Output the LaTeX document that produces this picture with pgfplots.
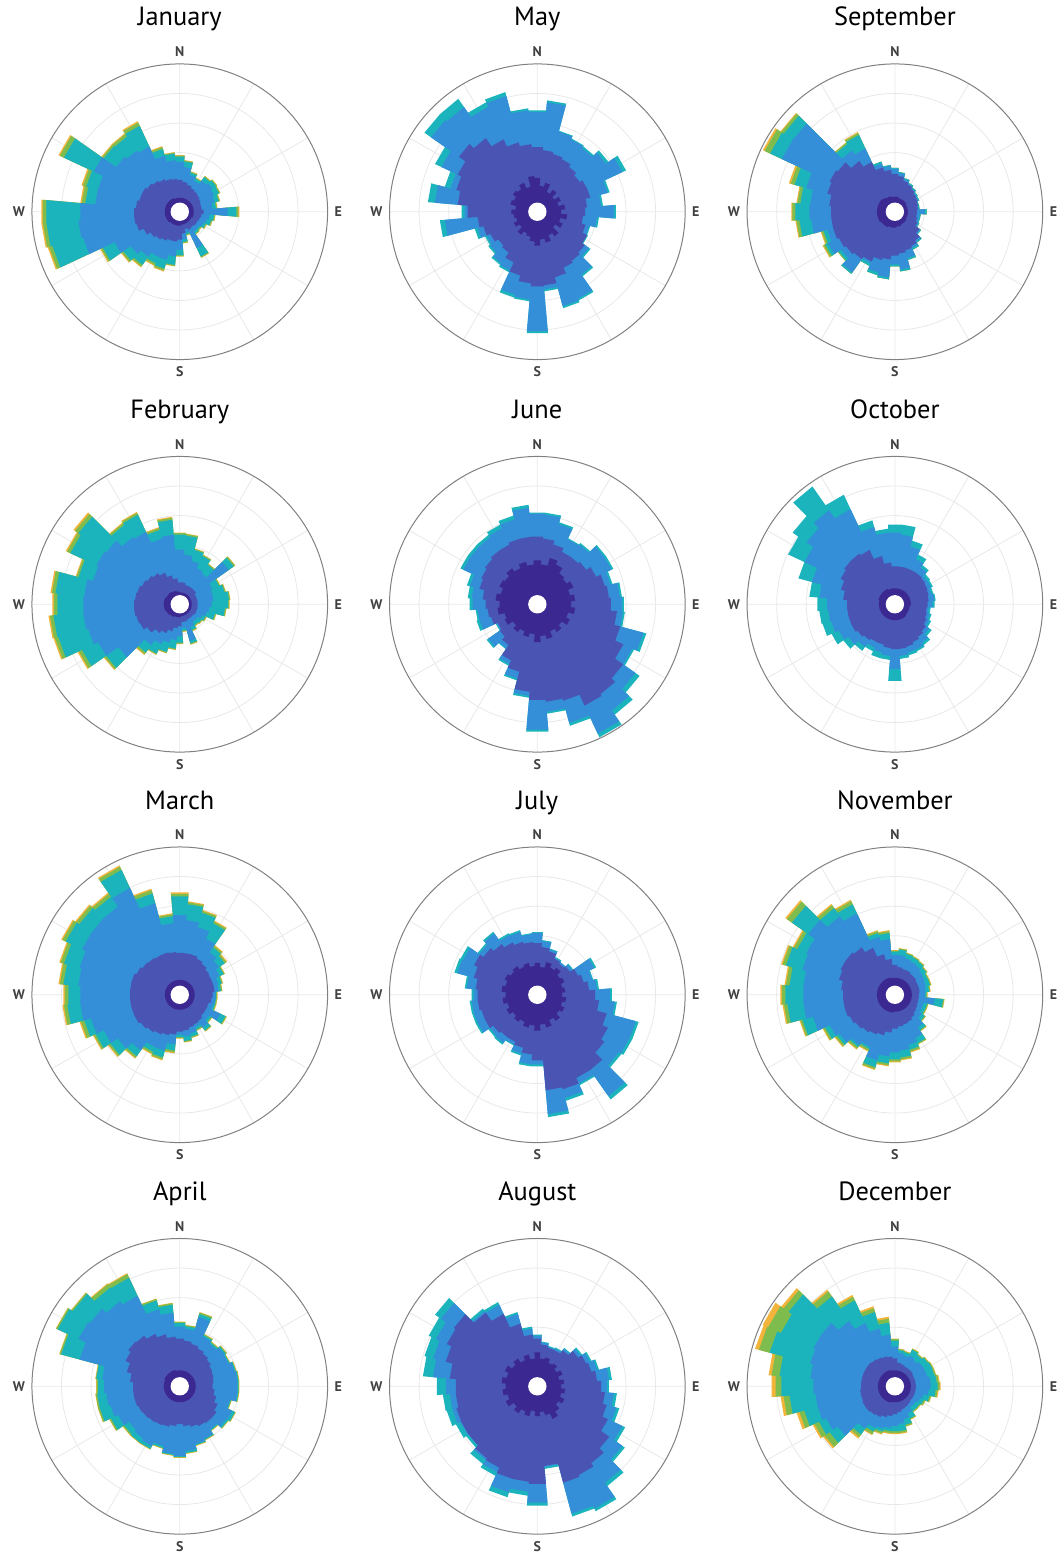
\documentclass[border=0pt]{standalone}
\usepackage{pgfplots}
\usepackage{pgfplotstable}
\usepackage{fontspec}
\setmainfont{PT Sans}
\pgfplotsset{compat=1.18}
\usepgfplotslibrary{polar}

% speed classes, slowest to fastest
\definecolor{c1}{RGB}{60,40,145}
\definecolor{c2}{RGB}{74,84,178}
\definecolor{c3}{RGB}{52,142,216}
\definecolor{c4}{RGB}{28,180,188}
\definecolor{c5}{RGB}{126,188,78}
\definecolor{c6}{RGB}{242,180,58}

% cumulative radius of each speed class per 10-degree sector (d = compass bearing)
\pgfplotstableread{
d a b c t g o
0 14 32 50 55.5 56.5 57
10 14 30 45 50.5 51.5 52
20 14 28 38 40.5 41.5 42
30 14 26 34 36.5 37.5 38
40 14 25 38 42.5 43.5 44
50 14 24 40 44.5 45.5 46
60 14 23 38 43.5 44.5 45
70 14 22 36 40.5 41.5 42
80 14 22 33 36.5 37.5 38
90 14 24 48 57 59 60
100 14 22 30 34.5 35.5 36
110 14 21 28 32.5 33.5 34
120 13 20 26 28.5 29.5 30
130 13 20 24 25.5 26.5 27
140 13 19 24 26.5 27.5 28
150 13 20 40 49.5 50.5 51
160 13 18 22 23.5 24.5 25
170 13 22 28 30.5 31.5 32
180 14 28 38 43.5 44.5 45
190 14 30 45 53.5 54.5 55
200 14 30 50 59 61 62
210 14 32 50 57 59 60
220 14 34 55 65 67 68
230 15 36 60 69 71 72
240 15 40 72 85 87 88
250 15 45 100 132 135.5 137
260 15 46 102 134 137.5 139
270 15 46 100 134 137.5 139
280 15 44 85 95 98.5 100
290 15 42 85 97 100.5 102
300 15 42 95 128 132.5 134
310 15 40 78 93 95 96
320 15 38 75 92 95 96
330 15 36 72 95 98.5 100
340 14 34 58 65 67 68
350 14 33 52 58.5 59.5 60
}\jan

\pgfplotstableread{
d a b c t g o
0 12 22 55 70 71.5 72
10 12 22 50 69 70.5 71
20 12 20 45 56.5 57.5 58
30 12 20 40 53.5 54.5 55
40 12 20 38 48.5 49.5 50
50 12 20 60 66 67.5 68
60 12 18 36 43.5 44.5 45
70 12 18 34 46.5 47.5 48
80 12 18 34 49.5 50.5 51
90 12 18 32 48.5 49.5 50
100 12 18 30 45.5 46.5 47
110 12 18 28 36.5 37.5 38
120 12 18 25 28.5 29.5 30
130 12 17 22 26.5 27.5 28
140 12 17 22 25.5 26.5 27
150 12 17 25 28.5 29.5 30
160 12 18 38 40.5 41.5 42
170 12 18 24 26.5 27.5 28
180 13 22 32 38.5 39.5 40
190 13 24 36 44.5 45.5 46
200 13 28 40 49.5 50.5 51
210 14 32 44 54.5 55.5 56
220 14 35 50 59 61 62
230 15 40 75 90 92 93
240 15 44 90 108 111.5 113
250 16 45 95 126 129.5 131
260 16 46 97 127 130.5 132
270 16 46 97 123 126.5 128
280 16 45 96 125 128.5 130
290 16 44 90 105 107 108
300 15 42 92 121 124.5 126
310 15 40 90 124 128 130
320 15 38 82 97 99 100
330 14 35 80 99 101 102
340 14 30 68 77 79 80
350 13 26 70 85 87 88
}\feb

\pgfplotstableread{
d a b c t g o
0 15 42 80 99 101.5 103
10 15 42 75 91 93 94
20 15 42 70 85 87 88
30 15 40 62 79 81 82
40 15 38 52 58 60 61
50 15 36 48 55 57 58
60 15 35 44 48.5 49.5 50
70 15 35 40 43.5 44.5 45
80 15 35 39 41.5 42.5 43
90 15 33 36 36.5 37.5 38
100 15 32 36 36.5 37.5 38
110 15 30 35 36.5 37.5 38
120 15 30 45 50.5 51.5 52
130 15 30 36 38.5 39.5 40
140 15 32 40 43.5 44.5 45
150 15 33 36 38.5 39.5 40
160 15 34 40 43.5 44.5 45
170 15 36 42 46.5 47.5 48
180 15 37 40 42.5 43.5 44
190 15 40 50 56 58 59
200 15 42 58 65 67 68
210 15 44 58 63 65 66
220 15 46 68 75 77 78
230 15 48 76 85 87 88
240 15 50 84 93 95 96
250 15 50 92 99 102.5 104
260 15 50 100 113 116.5 118
270 15 50 100 112 115.5 117
280 15 50 102 117 120.5 122
290 15 50 104 120 123.5 125
300 15 48 108 126 129.5 131
310 15 46 108 123 126.5 128
320 15 45 108 120 123.5 125
330 15 44 118 138 141.5 143
340 15 44 95 105 108.5 110
350 15 43 72 79 81 82
}\mar

\pgfplotstableread{
d a b c t g o
0 16 48 60 63.5 64.5 65
10 16 46 58 60.5 61.5 62
20 16 44 72 75 76.5 77
30 16 42 55 56.5 57.5 58
40 16 40 52 53.5 54.5 55
50 16 38 55 56.5 57.5 58
60 16 36 54 55 55.5 56
70 16 35 57 58 58.5 59
80 16 34 58 59 59.5 60
90 16 33 58 59 59.5 60
100 16 35 58 59 59.5 60
110 16 38 52 53 53.5 54
120 16 42 58 61 61.5 62
130 16 45 57 59 59.5 60
140 16 45 53 54 54.5 55
150 16 44 58 59 59.5 60
160 16 42 60 61 61.5 62
170 16 40 65 67 67.5 68
180 16 38 70 71 71.5 72
190 16 40 68 69 69.5 70
200 16 42 62 64 64.5 65
210 16 43 66 69 69.5 70
220 16 44 64 69 69.5 70
230 16 45 62 68 69.5 70
240 16 46 68 76 77.5 78
250 16 47 72 83 84.5 85
260 16 47 74 83 84.5 85
270 16 47 76 82 83.5 84
280 16 50 78 84 84.5 85
290 16 55 104 123 124.5 125
300 17 60 112 135 136.5 137
310 17 63 110 131 132.5 133
320 17 62 104 121 125 126
330 17 58 100 120 124 125
340 17 54 80 89 90.5 91
350 16 50 74 82 83.5 84
}\apr

\pgfplotstableread{
d a b c o
0 34 65 100 102
10 26 62 110 112
20 30 60 83 84
30 22 58 80 81
40 27 55 78 80
50 21 52 84 87
60 26 55 94 98
70 22 55 73 75
80 28 50 64 66
90 24 48 77 79
100 30 46 60 62
110 24 50 54 55
120 28 55 55 56
130 22 58 63 65
140 30 60 77 79
150 26 62 96 98
160 32 68 98 100
170 28 74 78 80
180 34 75 120 122
190 30 72 88 90
200 26 66 86 89
210 24 56 65 67
220 28 50 63 65
230 22 48 58 60
240 26 52 56 58
250 22 56 62 65
260 24 60 93 98
270 26 70 73 76
280 22 80 103 110
290 28 84 90 96
300 26 88 106 113
310 30 96 130 138
320 28 90 128 138
330 32 80 116 121
340 26 72 120 124
350 36 68 102 104
}\may

\pgfplotstableread{
d a b c o
0 44 68 91 92
10 40 66 90 92
20 48 62 83 85
30 44 58 72 73
40 38 58 73 75
50 36 60 82 84
60 40 65 82 84
70 34 70 76 78
80 38 72 83 85
90 34 74 85 87
100 38 80 86 88
110 32 86 110 113
120 36 95 105 107
130 30 105 120 125
140 34 110 130 135
150 30 112 143 147
160 36 100 123 126
170 32 98 108 110
180 38 96 126 128
190 30 88 92 94
200 34 70 77 79
210 30 62 66 68
220 34 50 54 55
230 30 46 60 62
240 36 44 45 46
250 34 48 60 63
260 40 50 60 62
270 38 52 65 68
280 42 55 66 70
290 38 60 70 73
300 42 62 82 85
310 40 64 82 85
320 44 66 82 85
330 40 66 84 88
340 44 68 88 92
350 40 68 97 100
}\jun

\pgfplotstableread{
d a b c o
0 32 52 62 63
10 28 48 54 55
20 34 45 47 48
30 30 40 41 42
40 33 38 40 40
50 28 40 43 44
60 30 45 63 65
70 26 48 57 58
80 28 52 60 62
90 25 58 73 75
100 29 62 78 80
110 26 72 102 105
120 30 78 102 105
130 27 82 100 103
140 32 92 124 128
150 28 92 98 100
160 34 98 107 110
170 30 96 120 123
180 36 66 70 72
190 31 60 70 72
200 34 55 61 63
210 30 52 55 56
220 33 52 59 61
230 30 54 58 60
240 34 58 66 68
250 31 58 66 68
260 35 60 66 68
270 32 60 64 66
280 36 62 71 73
290 33 66 83 86
300 36 70 82 85
310 33 66 71 73
320 35 62 75 77
330 31 58 66 68
340 33 55 65 67
350 29 53 61 62
}\jul

\pgfplotstableread{
d a b c o
0 34 48 51 52
10 28 42 44 45
20 30 40 41 42
30 26 40 42 43
40 28 44 46 47
50 24 50 53 55
60 28 54 58 60
70 23 56 62 64
80 27 60 72 75
90 24 64 70 72
100 28 68 77 80
110 25 72 82 85
120 30 78 94 97
130 26 88 104 107
140 31 94 118 122
150 36 98 135 138
160 30 100 132 135
170 26 80 81 83
180 30 98 117 120
190 25 96 106 110
200 31 96 110 115
210 28 90 95 99
220 33 88 90 95
230 29 84 84 87
240 35 84 85 90
250 31 84 88 94
260 35 82 88 95
270 32 82 92 101
280 36 88 105 115
290 32 95 108 117
300 36 100 112 120
310 31 102 118 125
320 34 90 92 95
330 29 80 90 93
340 33 65 75 77
350 28 52 58 60
}\aug

\pgfplotstableread{
d a b c t g o
0 15 38 43 44 44 44
10 15 36 39 40 40 40
20 14 32 34 35 35 35
30 14 30 31 32 32 32
40 14 28 29 30 30 30
50 14 26 27 28 28 28
60 13 25 26 27 27 27
70 13 24 24 25 25 25
80 13 23 24 25 25 25
90 13 22 30 32 32 32
100 13 22 25 26 26 26
110 13 23 25 26 26 26
120 13 25 26 27 27 27
130 14 30 31 32 32 32
140 14 35 37 38 38 38
150 14 38 40 42 42 42
160 15 40 48 50 50 50
170 15 42 58 60 60 60
180 16 44 53 55 55 55
190 16 48 66 68 68 68
200 16 50 63 66 66 66
210 17 55 57 60 60 60
220 17 58 74 76 76 76
230 17 60 66 69 70 70
240 18 62 74 77 79 80
250 18 64 70 74 76 77
260 18 64 84 96 99 100
270 18 64 86 100 103 104
280 18 66 85 95 98 99
290 18 70 92 104 108 110
300 18 72 125 138 144 146
310 18 70 125 136 139 140
320 17 62 75 83 84.5 85
330 16 55 70 85 87 88
340 16 46 50 52 52 52
350 15 42 46 47 47 47
}\sep

\pgfplotstableread{
d a b c o
0 16 38 72 80
10 16 38 70 80
20 16 38 60 66
30 16 38 50 55
40 16 38 45 48
50 16 37 40 43
60 16 36 40 42
70 16 35 38 40
80 16 34 40 41
90 16 33 38 40
100 15 32 34 36
110 15 33 36 38
120 15 35 38 40
130 15 38 42 45
140 16 40 47 50
150 16 42 50 52
160 16 44 50 53
170 16 45 52 55
180 16 45 65 77
190 16 44 52 56
200 16 42 50 56
210 16 42 48 52
220 16 44 52 57
230 16 46 57 63
240 16 48 62 70
250 16 48 66 75
260 16 48 67 76
270 16 48 68 78
280 16 52 76 86
290 17 56 86 100
300 17 60 100 118
310 17 62 108 125
320 17 62 115 144
330 17 60 105 121
340 16 50 80 87
350 16 42 72 76
}\oct

\pgfplotstableread{
d a b c t g o
0 17 30 40 43.5 44.5 45
10 17 28 40 45.5 46.5 47
20 17 27 38 42.5 43.5 44
30 17 27 37 41.5 42.5 43
40 17 26 36 40.5 41.5 42
50 17 26 34 38.5 39.5 40
60 17 25 33 36.5 37.5 38
70 17 25 32 36.5 37.5 38
80 17 25 31 34.5 35.5 36
90 17 24 30 31.5 32.5 33
100 17 24 40 48.5 49.5 50
110 17 24 30 33.5 34.5 35
120 17 25 30 33.5 34.5 35
130 17 26 33 36.5 37.5 38
140 17 28 40 43.5 44.5 45
150 17 30 48 53.5 54.5 55
160 17 31 52 57 59 60
170 17 32 56 63 65 66
180 17 34 58 65 67 68
190 18 38 62 69 71 72
200 18 42 68 75 77 78
210 18 44 58 60 62 63
220 18 46 62 64 66 67
230 18 48 68 71 73 74
240 18 50 72 77 79 80
250 18 52 85 96 98 99
260 18 52 92 108 111.5 113
270 18 52 92 110 113.5 115
280 18 54 92 106 109.5 111
290 18 58 96 113 116.5 118
300 18 60 98 108 111.5 113
310 18 60 106 126 132 134
320 18 58 96 106 109.5 111
330 18 52 90 100 103.5 105
340 18 42 60 64 66 67
350 17 36 56 62 64 65
}\nov

\pgfplotstableread{
d a b c t g o
0 16 28 40 46 47.5 48
10 16 24 34 36.5 37.5 38
20 16 23 32 35.5 36.5 37
30 16 22 34 40.5 41.5 42
40 16 22 32 38.5 39.5 40
50 16 22 34 40.5 41.5 42
60 16 21 34 41.5 42.5 43
70 16 21 34 41 42.5 43
80 16 21 36 42 44 45
90 16 21 36 43 45 46
100 16 21 34 41 43 44
110 16 21 30 36 37.5 38
120 16 21 28 32 33.5 34
130 16 21 26 30.5 31.5 32
140 16 22 26 30.5 31.5 32
150 16 23 30 35.5 36.5 37
160 16 24 34 40 41.5 42
170 16 26 38 45 47 48
180 16 28 40 45 47 48
190 16 30 42 45 47 48
200 17 32 44 47 49 50
210 17 34 46 50 53 54
220 17 35 52 59 62 64
230 17 36 70 80 86 88
240 17 36 76 84 89 91
250 17 35 80 94 99 102
260 17 35 80 106 112 115
270 17 34 82 114 120 124
280 17 34 85 116 124 127
290 17 34 88 130 141 145
300 17 34 90 126 140 146
310 17 34 90 130 136 139
320 17 33 80 110 116 118
330 17 32 70 95 99 101
340 17 31 60 77 81 83
350 16 30 52 64 68 70
}\dec

% one filled step outline: each sector spans bearing d-5 .. d+5
\newcommand\roselayer[3]{%
  \gdef\rosepath{}%
  \pgfplotstableforeachcolumnelement{#2}\of#1\as\rosr{%
    \pgfmathsetmacro\rosea{95-10*\pgfplotstablerow}%
    \pgfmathsetmacro\roseb{85-10*\pgfplotstablerow}%
    \xdef\rosepath{\rosepath(\rosea,\rosr)(\roseb,\rosr)}%
  }%
  \edef\rosedo{\noexpand\addplot[fill=#3,draw=none] coordinates {\rosepath} -- cycle;}%
  \rosedo
}
\newcommand\rosehole{\fill[white] (axis cs:0,0) circle[radius=4.6pt];}
\newcommand\rosetitle[1]{\node[anchor=base, font=\fontsize{13.2}{15}\selectfont, inner sep=0pt]
  at ([yshift=19pt]axis cs:90,148) {#1};}
\newcommand\rosesix[1]{%
  \roselayer#1{o}{c6}\roselayer#1{g}{c5}\roselayer#1{t}{c4}%
  \roselayer#1{c}{c3}\roselayer#1{b}{c2}\roselayer#1{a}{c1}\rosehole}
\newcommand\rosefour[1]{%
  \roselayer#1{o}{c4}\roselayer#1{c}{c3}\roselayer#1{b}{c2}\roselayer#1{a}{c1}\rosehole}

\pgfplotsset{
  rosebase/.style={
    width=148pt, height=148pt, scale only axis,
    anchor=center,
    ymin=0, ymax=148,
    xtick={0,30,...,330},
    xticklabels={E,,,N,,,W,,,S,,},
    ytick={29.6,59.2,88.8,118.4},
    yticklabels={},
    grid=major,
    major grid style={draw=black!9, line width=0.4pt},
    axis line style={draw=black!50, line width=0.5pt},
    y axis line style={draw=none},
    tick style={draw=none},
    xticklabel style={font=\fontsize{7}{8}\selectfont\bfseries, text=black!75},
    clip=false,
  }
}

\begin{document}
\begin{tikzpicture}
\path (0,0) rectangle (532.5pt,-779pt);
% column 1
\begin{polaraxis}[rosebase, at={(90pt,-106pt)}]
\rosesix\jan \rosetitle{January}
\end{polaraxis}
\begin{polaraxis}[rosebase, at={(90pt,-302.5pt)}]
\rosesix\feb \rosetitle{February}
\end{polaraxis}
\begin{polaraxis}[rosebase, at={(90pt,-498pt)}]
\rosesix\mar \rosetitle{March}
\end{polaraxis}
\begin{polaraxis}[rosebase, at={(90pt,-694pt)}]
\rosesix\apr \rosetitle{April}
\end{polaraxis}
% column 2
\begin{polaraxis}[rosebase, at={(269pt,-106pt)}]
\rosefour\may \rosetitle{May}
\end{polaraxis}
\begin{polaraxis}[rosebase, at={(269pt,-302.5pt)}]
\rosefour\jun \rosetitle{June}
\end{polaraxis}
\begin{polaraxis}[rosebase, at={(269pt,-498pt)}]
\rosefour\jul \rosetitle{July}
\end{polaraxis}
\begin{polaraxis}[rosebase, at={(269pt,-694pt)}]
\rosefour\aug \rosetitle{August}
\end{polaraxis}
% column 3
\begin{polaraxis}[rosebase, at={(448pt,-106pt)}]
\rosesix\sep \rosetitle{September}
\end{polaraxis}
\begin{polaraxis}[rosebase, at={(448pt,-302.5pt)}]
\rosefour\oct \rosetitle{October}
\end{polaraxis}
\begin{polaraxis}[rosebase, at={(448pt,-498pt)}]
\rosesix\nov \rosetitle{November}
\end{polaraxis}
\begin{polaraxis}[rosebase, at={(448pt,-694pt)}]
\rosesix\dec \rosetitle{December}
\end{polaraxis}
\end{tikzpicture}
\end{document}
